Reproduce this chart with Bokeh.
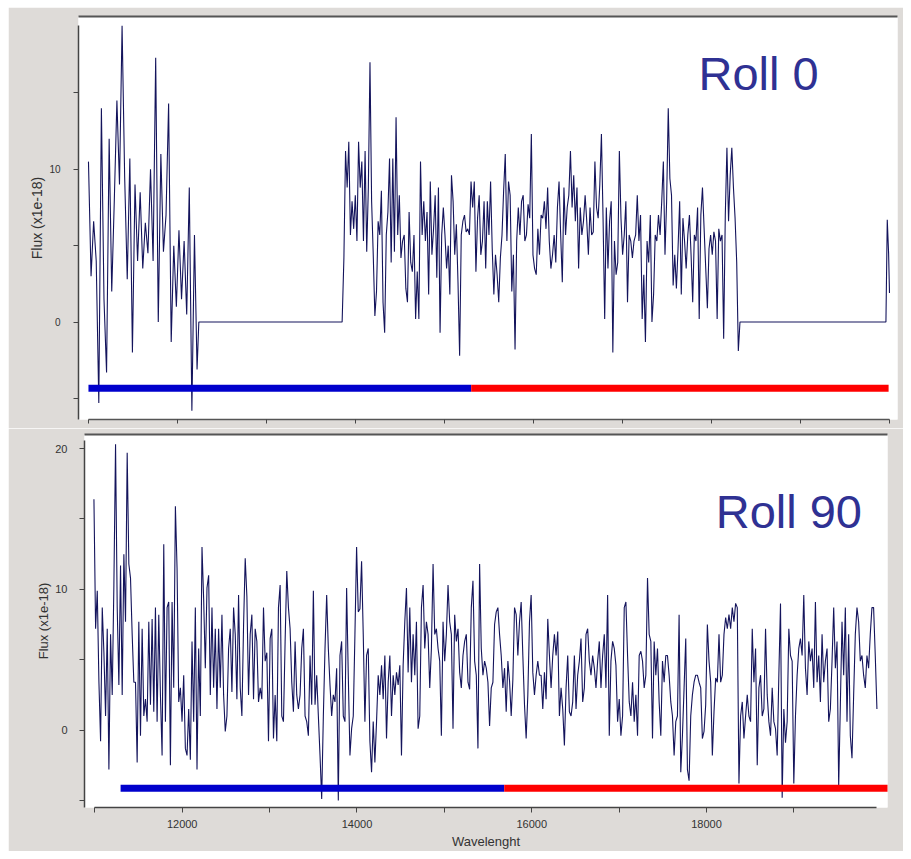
import numpy as np
from bokeh.plotting import figure
from bokeh.layouts import column, row
from bokeh.models import Range1d, FixedTicker, LinearAxis, Label, Spacer
from bokeh.embed import file_html
from bokeh.resources import INLINE

# ---------------- data ----------------
# Roll 0: first observed chunk (wavelength range and flux values)
roll0_seg1_range = (11000, 12220)
roll0_seg1_flux = [10.5, 3.0, 6.6, 4.0, -5.3, 14.0, 1.5, -3.3, 12.0, 2.0, 8.0, 14.5, 9.0, 19.4, 9.5,
                   2.8, 10.7, -2.0, 9.0, 4.0, 8.5, 3.5, 6.5, 4.5, 10.0, 4.0, 17.3, 0.0, 11.0, 4.6,
                   7.0, 14.3, -1.3, 5.0, 1.0, 6.0, 1.5, 5.3, 0.5, 8.8, -5.8, 5.7, -3.1]
# flat zero gap
roll0_gap1_wl = [12240, 13850]
roll0_gap1_flux = [0.0, 0.0]
# second observed chunk
roll0_seg2_range = (13870, 18320)
roll0_seg2_flux = [
    4.2, 11.2, 8.8, 11.8, 5.7, 7.9, 6.1, 8.3, 5.3, 11.8,
    8.8, 10.5, 5.3, 11.2, 4.6, 8.8, 17.0, 7.9, 4.4, 0.4,
    2.0, 6.6, 5.7, 8.6, 1.3, -0.7, 5.7, 7.2, 10.7, 3.9,
    10.7, 4.6, 13.4, 5.7, 8.3, 4.2, 5.3, 5.7, 2.2, 1.3,
    7.2, 3.9, 3.3, 5.7, 0.2, 3.3, 0.2, 10.5, 5.7, 7.9,
    5.3, 7.2, 1.8, 9.2, 4.4, 6.1, 8.3, 2.9, 8.8, -0.7,
    5.7, 7.5, 5.7, 3.5, 5.0, 1.8, 9.6, 7.9, 4.4, 6.4,
    2.6, -2.2, 5.7, 6.6, 7.0, 5.9, 6.1, 5.7, 9.2, 7.5,
    9.2, 3.3, 6.8, 8.3, 4.4, 5.3, 7.9, 3.5, 7.9, 5.7,
    9.2, 4.8, 1.8, 4.4, 3.1, 1.3, 4.2, 5.7, 8.6, 11.0,
    5.3, 9.2, 8.3, 2.0, 4.4, -1.8, 5.3, 7.5, 5.7, 7.9,
    8.3, 5.3, 5.7, 7.7, 6.8, 12.3, 4.4, 3.5, 3.1, 6.1,
    4.4, 7.0, 6.8, 7.9, 6.1, 8.8, 5.3, 3.5, 4.4, 5.7,
    3.9, 7.5, 9.2, 5.7, 2.6, 8.8, 5.7, 7.5, 8.3, 11.2,
    7.5, 9.6, 6.6, 8.8, 3.5, 7.5, 5.7, 6.6, 8.3, 6.6,
    4.4, 7.5, 5.7, 5.9, 10.5, 7.5, 6.8, 9.0, 12.3, 6.8,
    0.2, 7.5, 3.5, 6.6, 7.9, -2.0, 5.3, 3.1, 3.9, 11.2,
    6.8, 4.4, 5.7, 7.9, 1.3, 5.7, 5.3, 4.2, 5.3, 5.7,
    8.3, 5.3, 7.0, 0.2, 3.1, -1.3, 5.3, 3.9, 7.0, 0.0,
    1.8, 5.7, 5.3, 7.0, 5.7, 7.9, 10.5, 4.4, 7.9, 14.0,
    9.4, 8.3, 2.4, 4.4, 2.2, 4.8, 7.9, 1.8, 6.8, 5.3,
    3.5, 5.7, 7.0, 4.4, 1.3, 5.7, 5.3, 7.5, 0.2, 7.0,
    8.8, 6.1, 3.5, 0.9, 4.8, 5.7, 4.4, 5.9, 5.3, 0.2,
    6.1, 5.3, 5.7, -1.1, 7.0, 11.4, 6.6, 9.6, 11.4, 8.8,
    6.8, 3.9, -1.9, 0.0]
roll0_gap2_wl = [18340, 19960]
roll0_gap2_flux = [0.0, 0.0]
roll0_tail_wl = [19975, 19990, 20000]
roll0_tail_flux = [6.7, 4.5, 1.9]

# Roll 90: continuous spectrum
roll90_range = (10990, 19950)
roll90_part1 = [
    16.4, 7.2, 9.9, 3.4, -0.8, 8.7, 5.5, 1.0, 7.2, -2.8,
    6.8, 2.5, 10.3, 20.3, 8.7, 3.2, 11.7, 2.5, 12.5, 7.7,
    19.7, 11.8, 10.8, 6.8, 3.4, 3.4, -2.3, 7.7, -0.4, 7.2,
    1.0, 2.2, 0.6, 7.7, 1.8, 7.9, 1.3, 8.7, 0.6, 8.2,
    2.5, -1.8, 13.2, 0.6, 8.7, 9.1, -2.5, 9.1, 3.0, 15.9,
    11.5, 2.0, 3.0, 0.6, 3.9, -1.3, -1.8, 1.5, -2.1, 6.3,
    0.6, 8.7, -2.8, 5.8, 1.0, 13.0, 9.3, 4.4, 10.1, 11.0,
    2.5, 8.7, 3.0, 7.2, 1.5, 7.2, 3.0, 8.2, 2.5, -0.1,
    1.0, 5.8, 7.2, 2.7, 8.7, 6.8, 2.2, 9.6, 3.0, 1.0,
    7.4, 12.2, 9.5, 2.5, 6.8, 8.2, 2.2, 7.2, 6.3, 2.0,
    3.0, 2.2, 8.7, 4.9, 5.5, -0.8, 6.5, 7.2, -0.6, 2.5,
    -0.8, 8.7, 10.3, 1.0, 0.6, 6.3, 11.3, 8.7, 7.2, 3.4,
    1.3, 6.3, 2.5, 1.5, 2.5, 5.8, 7.2, 1.0, 0.6, -0.4,
    5.3, 1.8, 9.9, 1.8, 3.9, 1.0, -1.8, -4.9, 1.0, 5.8,
    9.6, 5.8, 3.2, 1.0, 2.5, 2.0, 4.4, -5.0, 5.3, 6.3,
    1.0, 0.6, 10.1, 3.9, -1.8, 0.1, 1.0, 6.8, 13.0, 8.4,
    8.6, 12.0, 6.8, 0.6, 5.3, 5.8]
roll90_part2 = [
    -0.8, -3.0, 0.6, -2.3, 0.6, 3.9, 2.5, 4.6, 2.2, 5.3,
    -0.6, 3.4, 5.3, 1.0, 3.9, 2.5, 4.1, 3.2, 4.6, -1.8,
    4.6, 7.7, 10.1, 4.1, 8.7, 3.4, 6.8, 3.9, 7.7, 0.1,
    1.0, 8.7, 10.3, 5.8, 7.7, 6.8, 3.0, 5.8, 11.8, 6.8,
    7.2, 5.8, 4.9, -0.4, 7.7, 4.9, 6.8, 10.3, 7.7, 6.8,
    0.1, 8.2, 6.3, 7.2, 4.1, 3.0, 5.3, 6.3, 6.8, 3.4,
    2.9, 8.7, 10.6, 4.9, 3.9, -1.3, 11.8, 5.8, 3.9, 4.9,
    4.4, 3.4, 0.3, 3.0, 3.4, 7.5, 8.4, 8.7, 6.8, 5.3,
    3.0, 4.4, 1.3, 4.9, 3.5, 1.0, 3.6, 8.7, 8.2, 5.3,
    7.7, 9.1, 5.3, 1.8, -0.6, 2.5, 7.7, 9.6, 4.1, 2.5,
    3.9, 4.9, 3.9, 3.9, 1.5, 4.1, 2.2, 7.9, 5.3, 3.0,
    5.3, 6.8, 5.3, 7.0, 1.0, 3.0, 1.5, -1.1, 3.0, 5.3,
    1.3, 1.0, 2.0, 5.3, 1.5, 3.9, 4.9, 6.5, 2.0, 3.0,
    6.8, 7.2, 4.9, 3.9, 5.3, 4.4, 3.0, 4.9, 6.3, 3.0,
    5.3, 6.8, 3.0, 9.6, -0.4, 4.9, 6.3, 5.8, 4.6, 0.6]
roll90_part3 = [
    2.2, -0.4, 1.0, 8.7, 9.1, 5.3, 2.0, 1.0, 3.4, 0.6,
    2.5, -0.4, 5.3, 5.6, 4.9, 3.0, 3.9, 10.8, 6.8, 6.3,
    -0.6, 6.3, 3.9, 5.8, 2.0, -0.4, 4.9, 3.4, 5.3, 5.3,
    3.9, 2.0, 1.0, -1.8, 0.6, 1.0, 8.2, -3.0, -0.4, 3.0,
    6.5, -2.8, -3.6, 1.0, 2.5, 3.4, 3.9, 3.9, 3.4, 3.0,
    -0.6, -0.1, 1.8, 7.5, 4.9, 3.4, -1.8, 1.3, 3.7, 3.4,
    6.8, 3.4, 3.9, 6.8, 8.0, 7.2, 8.2, 7.2, 8.7, 7.7,
    9.0, 8.7, -3.8, 1.0, 2.0, -0.6, 1.0, 2.5, 1.0, 0.6,
    7.2, 3.4, 5.8, -2.5, 3.0, 3.9, 1.0, 1.5, 7.2, 2.5,
    0.6, -0.4, 3.0, 0.6, 0.1, -1.8, 3.9, 9.0, -4.8, 1.5,
    -0.9, 0.6, 7.2, 5.3, 4.9, -3.8, 1.0, 3.9, 5.8, 6.5,
    5.3, 9.6, 4.4, 2.5, 6.3, 4.9, 5.8, 3.0, 9.1, 3.4,
    5.3, 2.0, 6.8, 3.4, 4.9, 5.8, 0.6, 1.5, 4.9, 8.7,
    4.4, 6.3, -4.0, 1.8, 7.7, 3.9, 8.7, 0.6, 6.8, -0.4,
    -2.0, 2.5, 6.8, 8.7, 7.7, 4.9, 5.3, 3.9, 3.0, 5.3,
    4.4, 6.8, 8.7, 8.7, 5.3, 1.5]

# coloured band bars (start, split, end, flux level)
roll0_bar = (11000, 15300, 19990, -4.34)
roll90_bar = (11295, 15685, 20100, -4.14)

# ticks: labelled (major) and unlabelled (minor)
roll0_x_minor = [11000, 12000, 13000, 14000, 15000, 16000, 17000, 18000, 19000, 20000]
roll0_y_major = [0, 10]
roll0_y_minor = [-5, 5, 15]
roll90_x_major = [12000, 14000, 16000, 18000]
roll90_x_minor = [11000, 13000, 15000, 17000, 19000]
roll90_y_major = [0, 10, 20]
roll90_y_minor = [-5, 5, 15]

# ---------------- assemble series ----------------
roll0_wl = np.concatenate([
    np.linspace(*roll0_seg1_range, len(roll0_seg1_flux)),
    roll0_gap1_wl,
    np.linspace(*roll0_seg2_range, len(roll0_seg2_flux)),
    roll0_gap2_wl,
    roll0_tail_wl])
roll0_flux = np.concatenate([roll0_seg1_flux, roll0_gap1_flux, roll0_seg2_flux,
                             roll0_gap2_flux, roll0_tail_flux])

roll90_flux = np.array(roll90_part1 + roll90_part2 + roll90_part3)
roll90_wl = np.linspace(*roll90_range, len(roll90_flux))

# ---------------- style ----------------
BG = "#dedbd8"
SPEC = "#14145c"
AXIS = "#444444"
TXT = "#333333"
FONT = "Liberation Sans"
BLUE = "#0000cc"
RED = "#ff0000"
TITLE = "#2f3193"


def style_ticks(ax, major, minor, tick_len):
    ax.ticker = FixedTicker(ticks=major, minor_ticks=minor)
    ax.major_tick_out = tick_len
    ax.major_tick_in = 0
    ax.minor_tick_out = tick_len
    ax.minor_tick_in = 0
    ax.major_tick_line_color = AXIS
    ax.minor_tick_line_color = AXIS
    ax.axis_line_color = AXIS
    ax.axis_line_width = 1.5


def style_y(p, major, minor, bounds, label_size, standoff, title_standoff, title_size):
    ax = p.yaxis[0]
    style_ticks(ax, major, minor, 5)
    ax.bounds = bounds
    ax.major_label_text_font = FONT
    ax.major_label_text_font_size = label_size
    ax.major_label_text_color = TXT
    ax.major_label_standoff = standoff
    ax.axis_label = "Flux (x1e-18)"
    ax.axis_label_text_font = FONT
    ax.axis_label_text_font_size = title_size
    ax.axis_label_text_font_style = "normal"
    ax.axis_label_text_color = TXT
    ax.axis_label_standoff = title_standoff


def top_border(p):
    b = LinearAxis(ticker=FixedTicker(ticks=[], minor_ticks=[]),
                   major_tick_out=0, major_tick_in=0, minor_tick_out=0, minor_tick_in=0,
                   major_label_standoff=0, major_label_text_font_size="9px",
                   axis_line_color="#555555", axis_line_width=2)
    p.add_layout(b, "above")


# ---------------- Roll 0 ----------------
p1 = figure(width=895, height=421, x_range=Range1d(10888, 20090), y_range=Range1d(-6.38, 20.0),
            output_backend="svg", toolbar_location=None,
            min_border_left=70, min_border_right=6, min_border_top=9, min_border_bottom=9,
            background_fill_color="white", border_fill_color=BG, outline_line_color=None)
p1.grid.visible = False
style_y(p1, roll0_y_major, roll0_y_minor, (-6.38, 19.4), "10px", 13, 1, "14px")
xa = p1.xaxis[0]
style_ticks(xa, [], roll0_x_minor, 4)
xa.bounds = (11000, 20000)
xa.major_label_standoff = 0
xa.axis_line_color = "#555555"
top_border(p1)

p1.line(roll0_wl, roll0_flux, line_color=SPEC, line_width=1.1)
p1.segment(x0=[roll0_bar[0], roll0_bar[1]], x1=[roll0_bar[1], roll0_bar[2]],
           y0=[roll0_bar[3]] * 2, y1=[roll0_bar[3]] * 2,
           line_color=[BLUE, RED], line_width=7, line_cap="butt")
p1.add_layout(Label(x=17854, y=16.25, text="Roll 0", text_font=FONT, text_font_size="47px",
                    text_color=TITLE, text_baseline="alphabetic", text_align="left"))

# ---------------- Roll 90 ----------------
p2 = figure(width=895, height=423, x_range=Range1d(10882, 20071), y_range=Range1d(-5.5, 21.0),
            output_backend="svg", toolbar_location=None,
            min_border_left=76, min_border_right=16, min_border_top=6, min_border_bottom=44,
            background_fill_color="white", border_fill_color=BG, outline_line_color=None)
p2.grid.visible = False
style_y(p2, roll90_y_major, roll90_y_minor, (-5.5, 20.57), "11px", 12, 1, "13px")
xb = p2.xaxis[0]
style_ticks(xb, roll90_x_major, roll90_x_minor, 5)
xb.bounds = (11000, 19950)
xb.major_label_text_font = FONT
xb.major_label_text_font_size = "11px"
xb.major_label_text_color = TXT
xb.major_label_standoff = 7
xb.axis_label = "Wavelenght"
xb.axis_label_text_font = FONT
xb.axis_label_text_font_size = "13px"
xb.axis_label_text_font_style = "normal"
xb.axis_label_text_color = TXT
xb.axis_label_standoff = 3
top_border(p2)

p2.line(roll90_wl, roll90_flux, line_color=SPEC, line_width=1.1)
p2.segment(x0=[roll90_bar[0], roll90_bar[1]], x1=[roll90_bar[1], roll90_bar[2]],
           y0=[roll90_bar[3]] * 2, y1=[roll90_bar[3]] * 2,
           line_color=[BLUE, RED], line_width=7, line_cap="butt")
p2.add_layout(Label(x=18105, y=15.5, text="Roll 90", text_font=FONT, text_font_size="47px",
                    text_color=TITLE, text_baseline="alphabetic", text_align="left"))

panels = column(row(p1), row(p2), spacing=0)
layout = column(Spacer(height=7), row(Spacer(width=8), panels, spacing=0), spacing=0)
open("out.html", "w").write(file_html(layout, INLINE))
